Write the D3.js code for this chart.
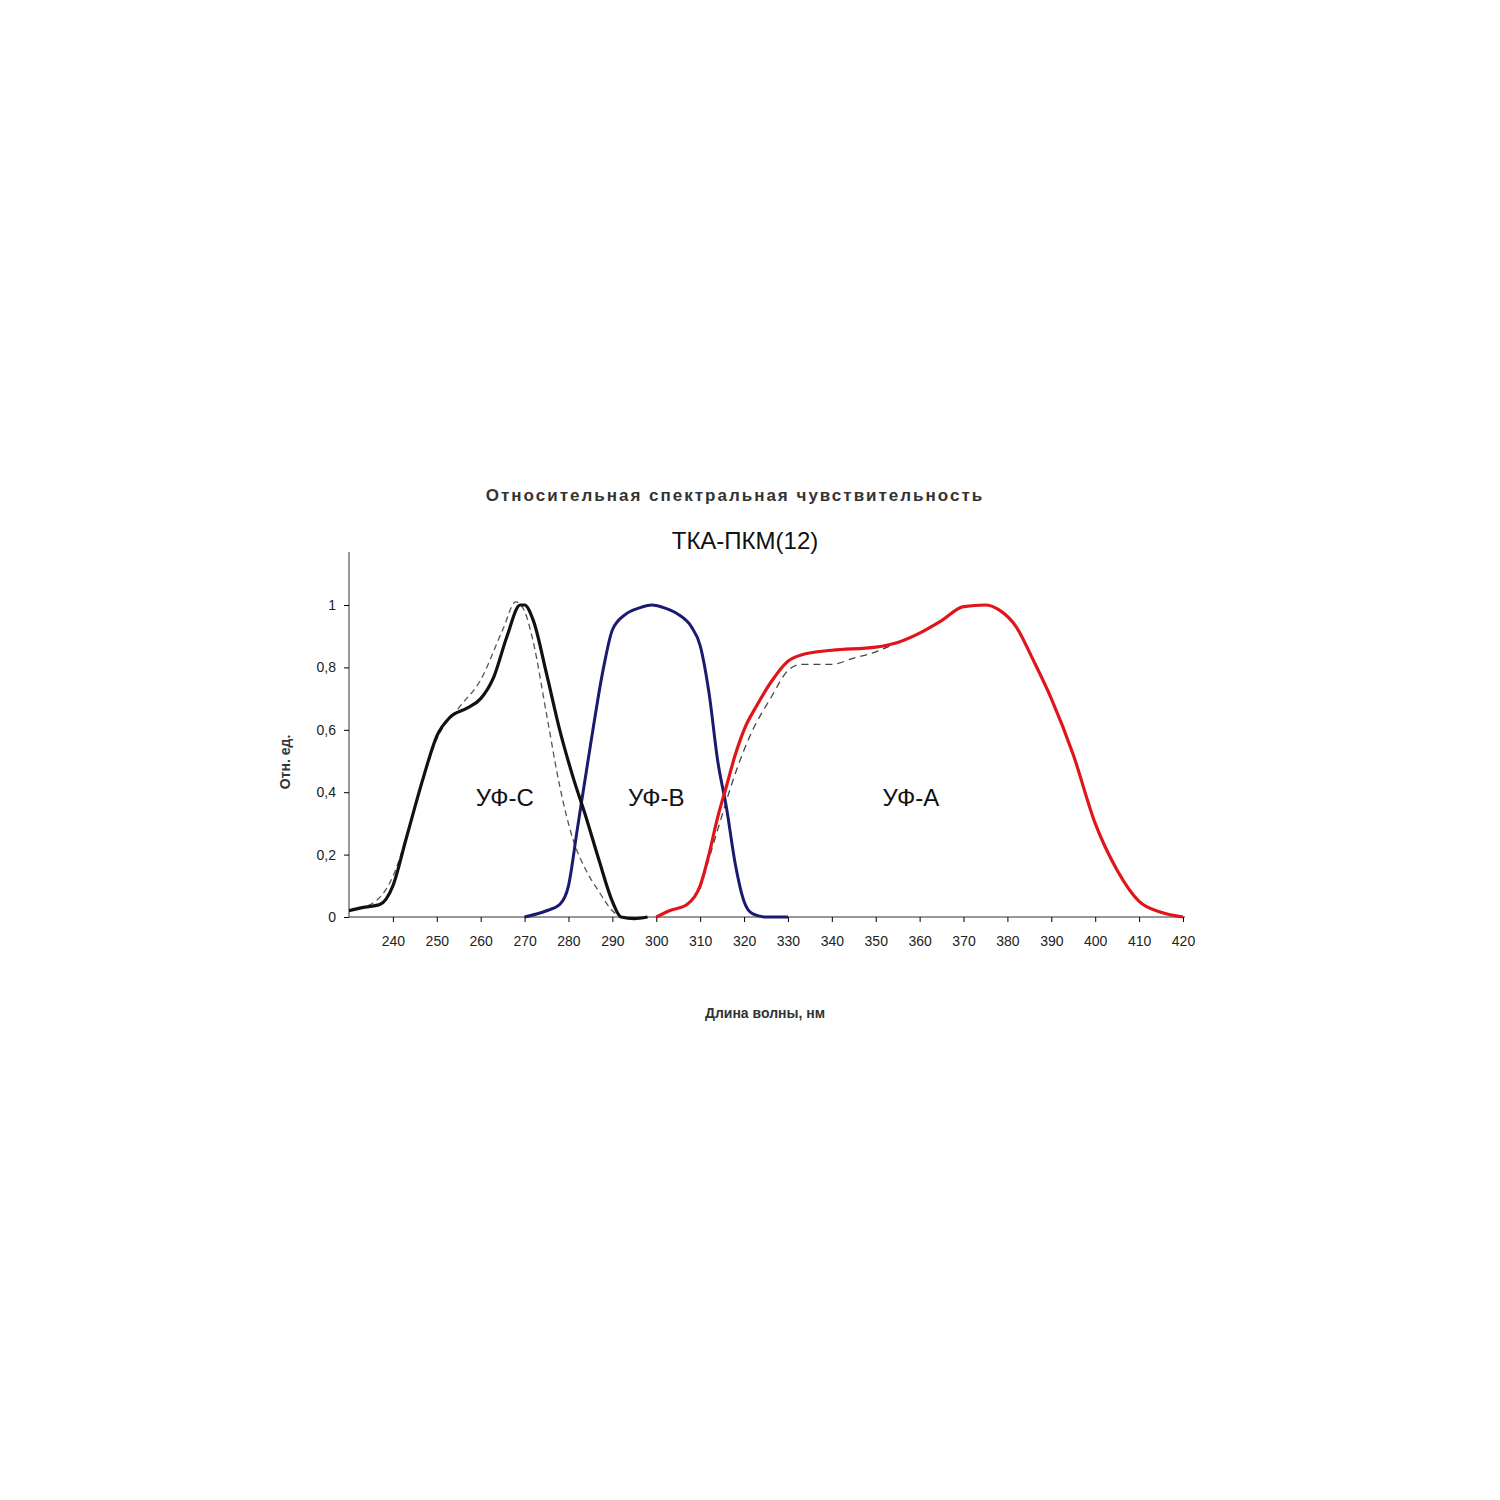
<!DOCTYPE html><html><head><meta charset="utf-8"><script src="https://cdn.jsdelivr.net/npm/d3@7"></script>
<style>body{margin:0;background:#fff}text{font-family:"Liberation Sans",Arial,sans-serif}</style></head><body>
<svg id="c" width="1500" height="1500"></svg>
<script>
const xTicks=[240,250,260,270,280,290,300,310,320,330,340,350,360,370,380,390,400,410,420];
const yTicks=[0,0.2,0.4,0.6,0.8,1];
const yTickLabels=["0","0,2","0,4","0,6","0,8","1"];
const uvcSolid=[[230,0.02],[233,0.03],[237,0.04],[240,0.1],[243,0.25],[247,0.45],[250,0.58],[253,0.64],[257,0.67],[260,0.7],[263,0.77],[266,0.9],[269,1.0],[270,1.0],[272,0.95],[275,0.78],[278,0.6],[281,0.45],[284,0.32],[287,0.18],[290,0.05],[292,0.0],[295,-0.005],[298,0]];
const uvcDash=[[230,0.02],[236,0.05],[240,0.13],[245,0.35],[250,0.57],[255,0.67],[260,0.76],[265,0.92],[268,1.01],[270,0.98],[272,0.88],[275,0.65],[278,0.42],[281,0.25],[284,0.15],[287,0.08],[290,0.02],[292,0]];
const uvb=[[270,0],[275,0.02],[278,0.04],[280,0.1],[282,0.28],[285,0.55],[288,0.8],[290,0.92],[293,0.97],[296,0.99],[299,1.0],[302,0.99],[305,0.97],[308,0.93],[310,0.87],[312,0.72],[314,0.5],[316,0.35],[318,0.17],[320,0.05],[322,0.01],[325,0],[330,0]];
const uva=[[300,0],[303,0.02],[307,0.04],[310,0.1],[312,0.2],[314,0.32],[316,0.42],[318,0.52],[320,0.6],[323,0.68],[326,0.75],[330,0.82],[333,0.84],[340,0.855],[350,0.865],[355,0.88],[360,0.91],[365,0.95],[370,0.995],[375,1.0],[378,0.985],[382,0.93],[386,0.82],[390,0.7],[395,0.52],[400,0.3],[405,0.15],[410,0.05],[415,0.015],[420,0]];
const uvaDash=[[310,0.09],[314,0.28],[318,0.46],[322,0.6],[326,0.7],[330,0.79],[333,0.81],[340,0.81],[345,0.83],[350,0.85],[355,0.88],[360,0.91],[365,0.95],[370,0.995],[375,1.0],[378,0.985],[382,0.93],[386,0.82],[390,0.7],[395,0.52],[400,0.3],[405,0.15],[410,0.05],[415,0.015],[420,0]];
const labels=[["УФ-С",265.5],["УФ-В",300],["УФ-А",358]];

const svg=d3.select("#c");
const x=d3.scaleLinear().domain([230,420]).range([349,1183]);
const y=d3.scaleLinear().domain([0,1]).range([917,605]);
const line=d3.line().x(d=>x(d[0])).y(d=>y(d[1])).curve(d3.curveMonotoneX);
svg.append("g").attr("transform","translate(0,917)").call(d3.axisBottom(x).tickValues(xTicks).tickSize(5).tickSizeOuter(0).tickPadding(14))
 .call(g=>{g.select(".domain").attr("stroke","#333").attr("d","M349,0H1185");g.selectAll("text").attr("font-size",14).attr("fill","#222");});
svg.append("g").attr("transform","translate(349,0)").call(d3.axisLeft(y).tickValues(yTicks).tickFormat((d,i)=>yTickLabels[i]).tickSize(5).tickSizeOuter(0).tickPadding(8))
 .call(g=>{g.select(".domain").attr("stroke","#333").attr("d","M0,917V552");g.selectAll("text").attr("font-size",14).attr("fill","#222");});
const draw=(d,c,w,da)=>svg.append("path").datum(d).attr("d",line).attr("fill","none").attr("stroke",c).attr("stroke-width",w).attr("stroke-dasharray",da||null);
draw(uvcDash,"#555",1.3,"6,4");draw(uvaDash,"#444",1.3,"7,5");
draw(uvb,"#1a1a6e",3);draw(uvcSolid,"#111",3.2);draw(uva,"#e0151b",3.2);
svg.selectAll(".lb").data(labels).enter().append("text").attr("x",d=>x(d[1])).attr("y",y(0.38)+8).attr("text-anchor","middle").attr("font-size",24).attr("fill","#111").text(d=>d[0]);
svg.append("text").attr("x",735).attr("y",501).attr("text-anchor","middle").attr("font-size",17).attr("font-weight","bold").attr("letter-spacing","2px").attr("fill","#333").text("Относительная спектральная чувствительность");
svg.append("text").attr("x",745).attr("y",549).attr("text-anchor","middle").attr("font-size",24).attr("fill","#111").text("ТКА-ПКМ(12)");
svg.append("text").attr("x",765).attr("y",1018).attr("text-anchor","middle").attr("font-size",14).attr("font-weight","bold").attr("fill","#333").text("Длина волны, нм");
svg.append("text").attr("transform","translate(290,762) rotate(-90)").attr("text-anchor","middle").attr("font-size",14).attr("font-weight","bold").attr("fill","#333").text("Отн. ед.");
</script></body></html>
